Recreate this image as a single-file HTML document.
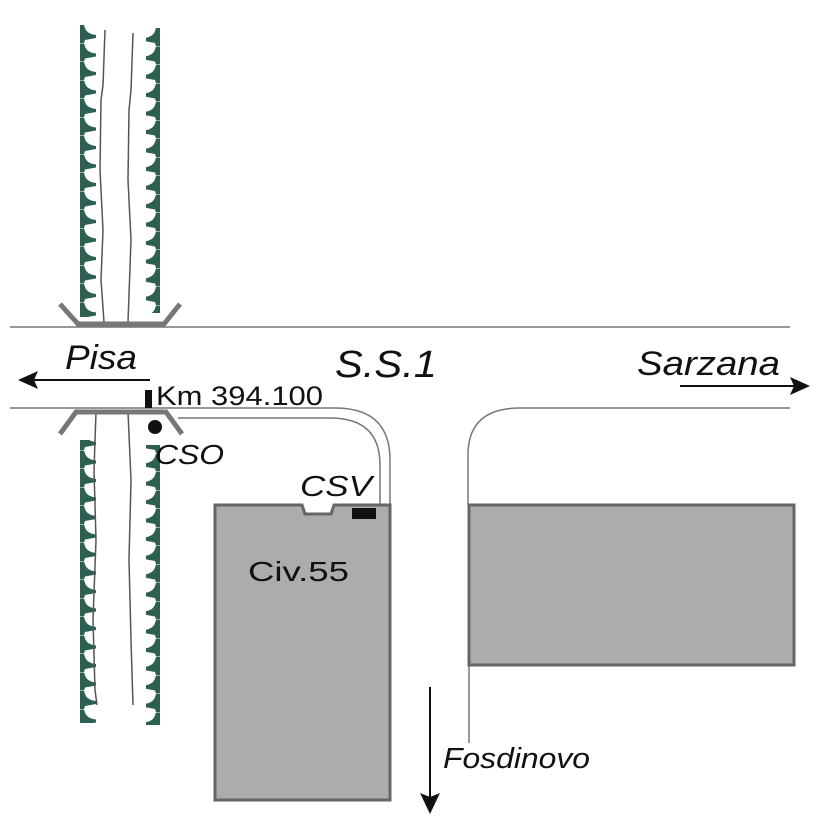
<!DOCTYPE html>
<html><head><style>
html,body{margin:0;padding:0;background:#fff;}
svg{display:block;}
text{font-family:"Liberation Sans",sans-serif;}
</style></head><body>
<svg width="826" height="826" viewBox="0 0 826 826" xmlns="http://www.w3.org/2000/svg">
<defs>
<pattern id="tl" x="0" y="25" width="20" height="18.5" patternUnits="userSpaceOnUse">
<path d="M0,0 L4,0 L5,3 Q7,9 16,10 L16,13 L5,15 L4,18 L0,18 Z" fill="#2d5f52"/>
</pattern>
<pattern id="tr" x="0" y="28" width="20" height="18.5" patternUnits="userSpaceOnUse">
<path d="M20,0 L16,0 L15,3 Q13,9 4,10 L4,13 L15,15 L16,18 L20,18 Z" fill="#2d5f52"/>
</pattern>
</defs>
<rect x="79" y="25" width="17" height="292" fill="url(#tl)"/>
<rect x="146" y="28" width="17" height="285" fill="url(#tr)"/>
<rect x="79" y="440" width="17" height="283" fill="url(#tl)"/>
<rect x="146" y="445" width="17" height="280" fill="url(#tr)"/>
<g fill="none" stroke="#555" stroke-width="1.5">
<path d="M105,30 L103,85 L101,100 L100,170 L103,230 L101,280 L104,322"/>
<path d="M133,33 L131,90 L129,110 L128,180 L131,240 L128,322"/>
<path d="M96,412 L94,470 L96,540 L93,620 L95,690 L97,705"/>
<path d="M128,412 L131,480 L129,560 L131,640 L133,705"/>
</g>
<g fill="none" stroke="#777" stroke-width="1.5">
<line x1="10" y1="327" x2="790" y2="327"/>
<path d="M10,408 L335,408 Q390,408 390,460 L390,505"/>
<path d="M178,418 L330,418 Q380,418 380,465 L380,505"/>
<path d="M468,505 L468,455 Q468,408 520,408 L790,408"/>
<line x1="469" y1="665" x2="469" y2="743"/>
</g>
<g fill="none" stroke="#777" stroke-width="5" stroke-linejoin="miter">
<polyline points="60,304 78,324 164,324 180,304"/>
<polyline points="60,434 76,412 166,412 182,434"/>
</g>
<path d="M215,505 L302,505 L305,514 L331,514 L334,505 L390,505 L390,800 L215,800 Z" fill="#acacac" stroke="#666" stroke-width="3"/>
<rect x="352" y="508" width="24" height="11" fill="#111"/>
<rect x="469" y="505" width="325" height="160" fill="#acacac" stroke="#666" stroke-width="3"/>
<line x1="30" y1="380" x2="150" y2="380" stroke="#111" stroke-width="2"/>
<polygon points="18,380 38,371 34,380 38,389" fill="#111"/>
<line x1="680" y1="386" x2="798" y2="386" stroke="#111" stroke-width="2"/>
<polygon points="810,386 790,377 794,386 790,395" fill="#111"/>
<line x1="430" y1="687" x2="430" y2="800" stroke="#111" stroke-width="2"/>
<polygon points="430,814 420,793 430,797 440,793" fill="#111"/>
<rect x="145" y="390" width="7" height="18" fill="#111"/>
<circle cx="155" cy="427" r="7" fill="#111"/>
<g fill="#111">
<text x="65" y="369" font-size="34" font-style="italic" textLength="72" lengthAdjust="spacingAndGlyphs">Pisa</text>
<text x="335" y="377" font-size="38" font-style="italic" textLength="102" lengthAdjust="spacingAndGlyphs">S.S.1</text>
<text x="637" y="375" font-size="34" font-style="italic" textLength="143" lengthAdjust="spacingAndGlyphs">Sarzana</text>
<text x="156" y="405" font-size="27" textLength="167" lengthAdjust="spacingAndGlyphs">Km 394.100</text>
<text x="155" y="464" font-size="28" font-style="italic" textLength="69" lengthAdjust="spacingAndGlyphs">CSO</text>
<text x="300" y="496" font-size="29" font-style="italic" textLength="72" lengthAdjust="spacingAndGlyphs">CSV</text>
<text x="248" y="581" font-size="28" textLength="101" lengthAdjust="spacingAndGlyphs">Civ.55</text>
<text x="443" y="768" font-size="29" font-style="italic" textLength="147" lengthAdjust="spacingAndGlyphs">Fosdinovo</text>
</g>
</svg>
</body></html>
